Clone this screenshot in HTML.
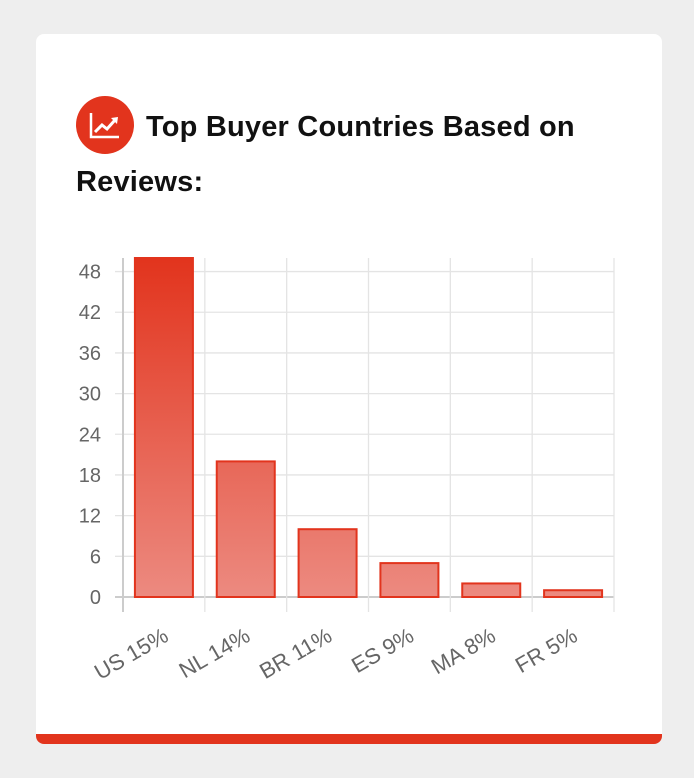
<!DOCTYPE html>
<html><head><meta charset="utf-8"><style>
body{margin:0;background:#eeeeee;width:694px;height:778px;overflow:hidden;font-family:"Liberation Sans",sans-serif}
.card{position:absolute;left:36px;top:34px;width:626px;height:710px;background:#fff;border-radius:8px;overflow:hidden}
.bar{position:absolute;left:0;bottom:0;width:626px;height:10px;background:#e2341d}
.icon{position:absolute;left:76px;top:96px;width:58px;height:58px;border-radius:50%;background:#e2341d}
.title{position:absolute;left:76px;top:100px;width:560px;font-weight:bold;font-size:29px;line-height:55px;color:#111;text-indent:70px;letter-spacing:0.2px}
</style></head><body>
<div class="card"><div class="bar"></div></div>
<div class="icon"><svg width="58" height="58" viewBox="0 0 58 58"><path d="M15 17 V41 H43" stroke="#fff" stroke-width="2.5" fill="none"/><path d="M19 36 L26 29 L31 33 L39 24" stroke="#fff" stroke-width="3" fill="none"/><path d="M35 22 L42 21 L41 28 Z" fill="#fff"/></svg></div>
<div class="title">Top Buyer Countries Based on Reviews:</div>
<svg id="chart" width="694" height="778" style="position:absolute;left:0;top:0">
<defs><linearGradient id="g" gradientUnits="userSpaceOnUse" x1="0" y1="258" x2="0" y2="597"><stop offset="0" stop-color="#e2341d"/><stop offset="1" stop-color="#ec8a80"/></linearGradient></defs>
</svg>
<script>
const categories=["US 15%","NL 14%","BR 11%","ES 9%","MA 8%","FR 5%"];
const values=[50,20,10,5,2,1];
const ticks=[0,6,12,18,24,30,36,42,48];
const yMax=50;
const svg=document.getElementById('chart');const NS='http://www.w3.org/2000/svg';
const x0=123,x1=614,y0=597,yTop=258,cw=(x1-x0)/categories.length;
const y=v=>y0-(y0-yTop)*v/yMax;
function mk(t,a){const e=document.createElementNS(NS,t);for(const k in a)e.setAttribute(k,a[k]);svg.appendChild(e);return e;}
ticks.forEach(t=>{
 const l=mk('line',{x1:x0-8,x2:x1,y1:y(t),y2:y(t),stroke:t===0?'#ccc':'#e4e4e4','stroke-width':t===0?2:1.3});
 
 
 const tx=mk('text',{x:101,y:y(t)+7,'text-anchor':'end','font-size':20,fill:'#666','font-family':'Liberation Sans, sans-serif'});
 tx.textContent=t;
 
 
});
for(let i=0;i<=categories.length;i++){
 const l=mk('line',{x1:x0+i*cw,x2:x0+i*cw,y1:yTop,y2:612,stroke:i===0?'#ccc':'#e4e4e4','stroke-width':i===0?2:1.3});
 
 
}
categories.forEach((c,i)=>{
 const cx=x0+cw*(i+0.5),w=58;
 const r=mk('rect',{x:cx-w/2,y:y(values[i]),width:w,height:y0-y(values[i]),fill:'url(#g)',stroke:'#e2341d','stroke-width':2});
 
 
 const t=mk('text',{'text-anchor':'end','font-size':22,fill:'#666','font-family':'Liberation Sans, sans-serif',transform:`translate(${cx+6},${640}) rotate(-30)`});
 t.textContent=c;
 
 
});
</script>
</body></html>
